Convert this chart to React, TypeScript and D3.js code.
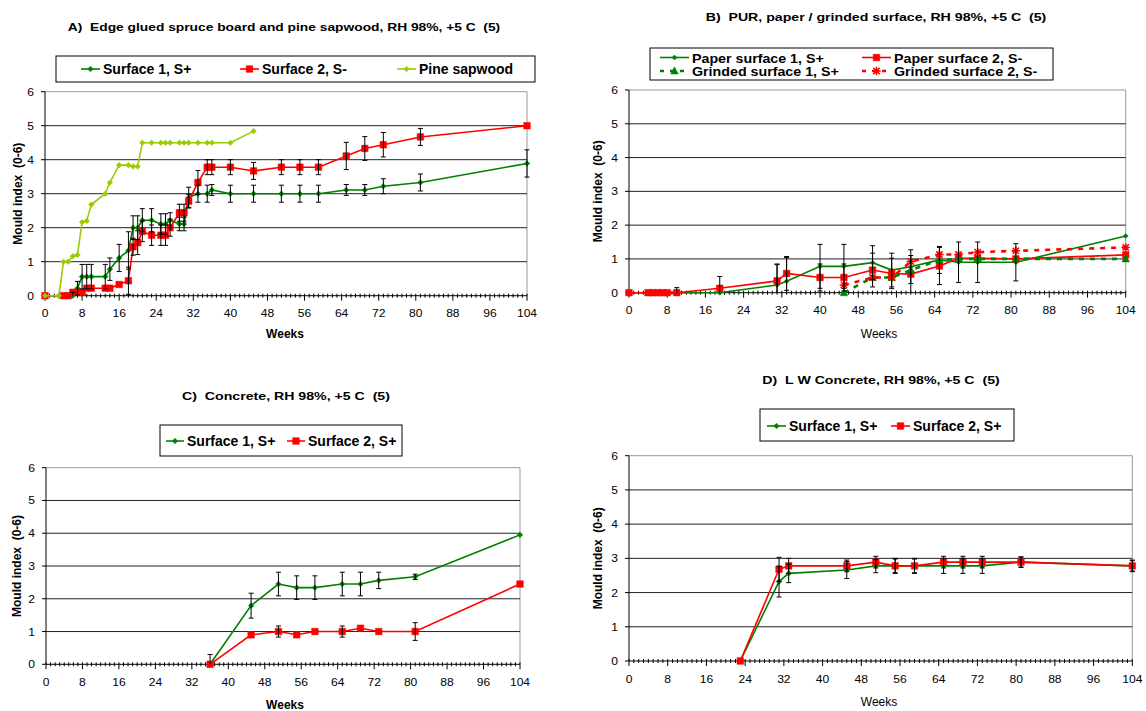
import React from 'react';
import * as d3 from 'd3';

const FONT = '"Liberation Sans", Arial, Helvetica, sans-serif';
const GREEN = '#008000';
const RED = '#FF0000';
const PINE = '#99CC00';

// ---------- Panel A data ----------
const aSurf1Weeks = [0,3,4,5,6,7,8,9,10,13,14,16,18,19,20,21,23,25,26,27,29,30,31,33,35,36,40,45,51,55,59,65,69,73,81,104];
const aSurf1Vals = [0,0,0,0,0,0.22,0.56,0.56,0.56,0.56,0.78,1.11,1.33,2.0,2.0,2.22,2.22,2.11,2.11,2.22,2.11,2.11,2.89,3.0,3.0,3.11,3.0,3.0,3.0,3.0,3.0,3.11,3.11,3.22,3.33,3.89];
const aSurf1Err = [0,0,0,0,0.1,0.2,0.36,0.36,0.36,0.36,0.33,0.4,0.55,0.35,0.35,0.34,0.34,0.3,0.3,0.22,0.2,0.2,0.3,0.25,0.25,0.16,0.25,0.25,0.25,0.25,0.25,0.16,0.16,0.22,0.25,0.4];
const aSurf2Weeks = [0,4,5,6,7,8,9,10,13,14,16,18,19,20,21,23,25,26,27,29,30,31,33,35,36,40,45,51,55,59,65,69,73,81,104];
const aSurf2Vals = [0,0,0,0.1,0.1,0.1,0.22,0.22,0.22,0.22,0.33,0.44,1.44,1.56,1.89,1.78,1.78,1.78,2.0,2.44,2.44,2.78,3.33,3.78,3.78,3.78,3.67,3.78,3.78,3.78,4.11,4.33,4.44,4.67,5.0];
const aSurf2Err = [0,0,0,0,0,0,0,0,0,0,0,0.4,0.25,0.35,0.3,0.3,0.3,0.3,0.25,0.25,0.25,0.2,0.35,0.22,0.22,0.22,0.25,0.22,0.22,0.22,0.4,0.35,0.36,0.25,0];
const aPineWeeks = [0,3,4,5,6,7,8,9,10,13,14,16,18,19,20,21,23,25,26,27,29,30,31,33,35,36,40,45];
const aPineVals = [0,0,1.0,1.0,1.16,1.2,2.16,2.2,2.68,3.0,3.33,3.84,3.84,3.8,3.8,4.5,4.5,4.5,4.5,4.5,4.5,4.5,4.5,4.5,4.5,4.5,4.5,4.84];

// ---------- Panel B data ----------
const bPaperWeeks = [0,4,5,6,7,8,10,19,31,33,40,45,51,55,59,65,69,73,81,104];
const bPaper1Vals = [0,0,0,0,0,0,0,0,0.23,0.34,0.78,0.78,0.89,0.67,0.77,0.97,0.9,0.9,0.9,1.68];
const bPaper1Err = [0,0,0,0,0,0,0.15,0,0.6,0.7,0.65,0.65,0.5,0.5,0.5,0.4,0.6,0.6,0.55,0];
const bPaper2Vals = [0,0,0,0,0,0,0,0.13,0.35,0.57,0.45,0.45,0.67,0.57,0.55,0.79,1.02,1.02,1.0,1.12];
const bPaper2Err = [0,0,0,0,0,0,0,0.35,0.5,0.5,0.4,0.4,0.5,0.45,0.55,0.55,0,0,0,0];
const bGrindWeeks = [45,51,55,59,65,69,73,81,104];
const bGrind1Vals = [0,0.45,0.45,0.67,0.97,1.0,1.0,1.0,1.0];
const bGrind2Vals = [0.23,0.45,0.45,0.92,1.13,1.13,1.2,1.24,1.34];

// ---------- Panel C data ----------
const cWeeks = [36,45,51,55,59,65,69,73,81,104];
const cSurf1Vals = [0,1.79,2.45,2.34,2.34,2.45,2.45,2.56,2.67,3.95];
const cSurf1Err = [0.3,0.38,0.36,0.36,0.36,0.36,0.36,0.25,0.08,0];
const cSurf2Vals = [0,0.9,1.0,0.9,1.0,1.0,1.1,1.0,1.0,2.45];
const cSurf2Err = [0,0,0.17,0,0,0.17,0,0,0.27,0];

// ---------- Panel D data ----------
const dWeeks = [23,31,33,45,51,55,59,65,69,73,81,104];
const dSurf1Vals = [0,2.32,2.56,2.66,2.78,2.78,2.78,2.78,2.78,2.78,2.89,2.78];
const dSurf1Err = [0,0.45,0.27,0.25,0.2,0.22,0.22,0.22,0.22,0.22,0.15,0.17];
const dSurf2Vals = [0,2.68,2.78,2.78,2.89,2.78,2.78,2.89,2.89,2.89,2.89,2.78];
const dSurf2Err = [0,0.35,0.22,0.17,0.17,0.2,0.2,0.17,0.17,0.17,0.15,0.15];

const xTickValues = [0,8,16,24,32,40,48,56,64,72,80,88,96,104];
const yTickValues = [0,1,2,3,4,5,6];

type Marker = 'diamond' | 'square' | 'triangle' | 'asterisk';
interface Series {
  name: string;
  weeks: number[];
  values: number[];
  errs?: number[];
  color: string;
  width: number;
  dash?: string;
  marker: Marker;
  msize: number;
}

function markerPath(m: Marker, r: number): string {
  if (m === 'diamond') return `M0,${-r}L${r},0L0,${r}L${-r},0Z`;
  if (m === 'square') return `M${-r},${-r}H${r}V${r}H${-r}Z`;
  if (m === 'triangle') return `M0,${-r * 1.1}L${r},${r * 0.8}L${-r},${r * 0.8}Z`;
  return `M${-r},0H${r}M0,${-r}V${r}M${-r * 0.75},${-r * 0.75}L${r * 0.75},${r * 0.75}M${r * 0.75},${-r * 0.75}L${-r * 0.75},${r * 0.75}`;
}

function MarkerEl({ m, r, color, x, y }: { m: Marker; r: number; color: string; x: number; y: number }) {
  const d = markerPath(m, r);
  if (m === 'asterisk') {
    return <path d={d} transform={`translate(${x},${y})`} stroke={color} strokeWidth={1.5} fill="none" />;
  }
  return <path d={d} transform={`translate(${x},${y})`} fill={color} stroke={color} strokeWidth={0.5} />;
}

interface LegendItem { series: Series; lx0: number; lx1: number; ty: number; ly: number; }
interface PanelProps {
  x0: number; x1: number; yTop: number; yBot: number;
  title: string; titleX: number; titleY: number; titleFs: number; titleSx: number;
  legendBox: [number, number, number, number];
  legendItems: LegendItem[];
  legendFs: number; legendSx: number;
  series: Series[];
  ylabelDx: number;
  weeksX: number; weeksY: number; weeksBold: boolean;
}

const PRE: React.CSSProperties = { whiteSpace: 'pre' };

function Panel(p: PanelProps) {
  const x = d3.scaleLinear().domain([0, 104]).range([p.x0, p.x1]);
  const y = d3.scaleLinear().domain([0, 6]).range([p.yBot, p.yTop]);
  const minor = d3.range(0, 105, 1);
  const line = d3.line<[number, number]>().x(d => x(d[0])).y(d => y(d[1]));
  const [bx0, by0, bx1, by1] = p.legendBox;
  return (
    <g fontFamily={FONT}>
      {/* title */}
      <text style={PRE} transform={`translate(${p.titleX},${p.titleY}) scale(${p.titleSx},1)`} textAnchor="middle" fontSize={p.titleFs} fontWeight="bold" fill="#000">{p.title}</text>
      {/* legend */}
      <rect x={bx0} y={by0} width={bx1 - bx0} height={by1 - by0} fill="#fff" stroke="#000" strokeWidth={1} />
      {p.legendItems.map((it, i) => (
        <g key={'lg' + i}>
          <line x1={it.lx0} x2={it.lx1} y1={it.ly} y2={it.ly} stroke={it.series.color} strokeWidth={it.series.width} strokeDasharray={it.series.dash ? '4,6' : undefined} />
          <MarkerEl m={it.series.marker} r={it.series.msize} color={it.series.color} x={(it.lx0 + it.lx1) / 2} y={it.ly} />
          <text transform={`translate(${it.lx1 + 3},${it.ty}) scale(${p.legendSx},1)`} fontSize={p.legendFs} fontWeight="bold" fill="#000">{it.series.name}</text>
        </g>
      ))}
      {/* plot frame */}
      <line x1={p.x0} x2={p.x1} y1={p.yTop} y2={p.yTop} stroke="#999" strokeWidth={1} />
      <line x1={p.x1} x2={p.x1} y1={p.yTop} y2={p.yBot} stroke="#999" strokeWidth={1} />
      {[1, 2, 3, 4, 5].map(v => (
        <line key={'g' + v} x1={p.x0} x2={p.x1} y1={y(v)} y2={y(v)} stroke="#222" strokeWidth={1} />
      ))}
      {/* y axis */}
      <line x1={p.x0} x2={p.x0} y1={p.yTop} y2={p.yBot} stroke="#000" strokeWidth={1} />
      {yTickValues.map(v => (
        <g key={'yt' + v}>
          <line x1={p.x0 - 4} x2={p.x0} y1={y(v)} y2={y(v)} stroke="#000" />
          <text transform={`translate(${p.x0 - 11},${y(v) + 4}) scale(1.1,1)`} textAnchor="end" fontSize={11} fill="#000">{v}</text>
        </g>
      ))}
      <text style={PRE} transform={`translate(${p.x0 - p.ylabelDx},${(p.yTop + p.yBot) / 2}) rotate(-90)`} textAnchor="middle" fontSize={12} fontWeight="bold" fill="#000">Mould index  (0-6)</text>
      {/* x axis */}
      <line x1={p.x0} x2={p.x1} y1={p.yBot} y2={p.yBot} stroke="#000" strokeWidth={1} />
      {minor.map(w => (
        <line key={'mt' + w} x1={x(w)} x2={x(w)} y1={p.yBot - 2} y2={w % 8 === 0 ? p.yBot + 5 : p.yBot + 2} stroke="#000" strokeWidth={1} />
      ))}
      {xTickValues.map(w => (
        <text key={'xt' + w} transform={`translate(${x(w)},${p.yBot + 21.5}) scale(1.1,1)`} textAnchor="middle" fontSize={11} fill="#000">{w}</text>
      ))}
      <text x={p.weeksX} y={p.weeksY} textAnchor="middle" fontSize={12} fontWeight={p.weeksBold ? 'bold' : 'normal'} fill="#000">Weeks</text>
      {/* series lines */}
      {p.series.map((s, i) => (
        <g key={'s' + i}>
          <path d={line(s.weeks.map((w, j) => [w, s.values[j]] as [number, number])) || ''} fill="none" stroke={s.color} strokeWidth={s.width} strokeDasharray={s.dash} />
          {s.weeks.map((w, j) => (
            <MarkerEl key={'m' + j} m={s.marker} r={s.msize} color={s.color} x={x(w)} y={y(s.values[j])} />
          ))}
        </g>
      ))}
      {/* error bars */}
      {p.series.map((s, i) => s.errs ? (
        <g key={'e' + i} stroke="#000" strokeWidth={1}>
          {s.weeks.map((w, j) => {
            const e = s.errs![j];
            if (!e) return null;
            const v = s.values[j];
            const lo = Math.max(v - e, 0);
            const hi = v + e;
            const cx = x(w);
            return (
              <g key={'eb' + j}>
                <line x1={cx} x2={cx} y1={y(lo)} y2={y(hi)} />
                <line x1={cx - 2.5} x2={cx + 2.5} y1={y(hi)} y2={y(hi)} />
                {v - e > 0 ? <line x1={cx - 2.5} x2={cx + 2.5} y1={y(lo)} y2={y(lo)} /> : null}
              </g>
            );
          })}
        </g>
      ) : null)}
    </g>
  );
}

export default function App() {
  const aS1: Series = { name: 'Surface 1, S+', weeks: aSurf1Weeks, values: aSurf1Vals, errs: aSurf1Err, color: GREEN, width: 1.6, marker: 'diamond', msize: 2.8 };
  const aS2: Series = { name: 'Surface 2, S-', weeks: aSurf2Weeks, values: aSurf2Vals, errs: aSurf2Err, color: RED, width: 1.6, marker: 'square', msize: 3.3 };
  const aP: Series = { name: 'Pine sapwood', weeks: aPineWeeks, values: aPineVals, color: PINE, width: 1.6, marker: 'diamond', msize: 2.8 };

  const bP1: Series = { name: 'Paper surface 1, S+', weeks: bPaperWeeks, values: bPaper1Vals, errs: bPaper1Err, color: GREEN, width: 1.6, marker: 'diamond', msize: 2.5 };
  const bP2: Series = { name: 'Paper surface 2, S-', weeks: bPaperWeeks, values: bPaper2Vals, errs: bPaper2Err, color: RED, width: 1.6, marker: 'square', msize: 3.3 };
  const bG1: Series = { name: 'Grinded surface 1, S+', weeks: bGrindWeeks, values: bGrind1Vals, color: GREEN, width: 2.6, dash: '5,6', marker: 'triangle', msize: 3.8 };
  const bG2: Series = { name: 'Grinded surface 2, S-', weeks: bGrindWeeks, values: bGrind2Vals, color: RED, width: 2.6, dash: '5,6', marker: 'asterisk', msize: 4.2 };

  const cS1: Series = { name: 'Surface 1, S+', weeks: cWeeks, values: cSurf1Vals, errs: cSurf1Err, color: GREEN, width: 1.6, marker: 'diamond', msize: 2.8 };
  const cS2: Series = { name: 'Surface 2, S+', weeks: cWeeks, values: cSurf2Vals, errs: cSurf2Err, color: RED, width: 1.6, marker: 'square', msize: 3.3 };

  const dS1: Series = { name: 'Surface 1, S+', weeks: dWeeks, values: dSurf1Vals, errs: dSurf1Err, color: GREEN, width: 1.6, marker: 'diamond', msize: 2.8 };
  const dS2: Series = { name: 'Surface 2, S+', weeks: dWeeks, values: dSurf2Vals, errs: dSurf2Err, color: RED, width: 1.6, marker: 'square', msize: 3.3 };

  return (
    <svg width={1146} height={711} style={{ position: 'absolute', left: 0, top: 0, background: '#fff' }}>
      <rect x={0} y={0} width={1146} height={711} fill="#fff" />
      <Panel x0={45} x1={527} yTop={91.7} yBot={295.7}
        title="A)  Edge glued spruce board and pine sapwood, RH 98%, +5 C  (5)" titleX={284} titleY={31} titleFs={11.5} titleSx={1.2}
        legendBox={[56, 56, 535, 82]}
        legendItems={[
          { series: aS1, lx0: 81, lx1: 100, ly: 69, ty: 74 },
          { series: aS2, lx0: 240, lx1: 259, ly: 69, ty: 74 },
          { series: aP, lx0: 397, lx1: 416, ly: 69, ty: 74 },
        ]}
        legendFs={14} legendSx={1}
        series={[aS1, aS2, aP]} ylabelDx={23} weeksX={285} weeksY={338} weeksBold={true} />
      <Panel x0={629} x1={1125.7} yTop={90} yBot={292.7}
        title="B)  PUR, paper / grinded surface, RH 98%, +5 C  (5)" titleX={876} titleY={20.5} titleFs={11.8} titleSx={1.2}
        legendBox={[650, 48, 1053, 80]}
        legendItems={[
          { series: bP1, lx0: 660, lx1: 689, ly: 57.5, ty: 62.5 },
          { series: bP2, lx0: 862, lx1: 891, ly: 57.5, ty: 62.5 },
          { series: bG1, lx0: 660, lx1: 689, ly: 71, ty: 76 },
          { series: bG2, lx0: 862, lx1: 891, ly: 71, ty: 76 },
        ]}
        legendFs={12.5} legendSx={1.14}
        series={[bP1, bP2, bG1, bG2]} ylabelDx={27.5} weeksX={879} weeksY={338} weeksBold={false} />
      <Panel x0={46} x1={520} yTop={467.7} yBot={664.3}
        title="C)  Concrete, RH 98%, +5 C  (5)" titleX={286} titleY={399.5} titleFs={11.8} titleSx={1.2}
        legendBox={[160, 425, 402, 456]}
        legendItems={[
          { series: cS1, lx0: 166, lx1: 184, ly: 441, ty: 446 },
          { series: cS2, lx0: 287, lx1: 305, ly: 441, ty: 446 },
        ]}
        legendFs={14} legendSx={1}
        series={[cS1, cS2]} ylabelDx={25.5} weeksX={285} weeksY={709} weeksBold={true} />
      <Panel x0={629} x1={1132.3} yTop={455.7} yBot={661}
        title="D)  L W Concrete, RH 98%, +5 C  (5)" titleX={881} titleY={384} titleFs={11.8} titleSx={1.2}
        legendBox={[760, 409, 1014, 441]}
        legendItems={[
          { series: dS1, lx0: 767, lx1: 786, ly: 426, ty: 431 },
          { series: dS2, lx0: 891, lx1: 910, ly: 426, ty: 431 },
        ]}
        legendFs={14} legendSx={1}
        series={[dS1, dS2]} ylabelDx={27} weeksX={879} weeksY={706} weeksBold={false} />
    </svg>
  );
}
